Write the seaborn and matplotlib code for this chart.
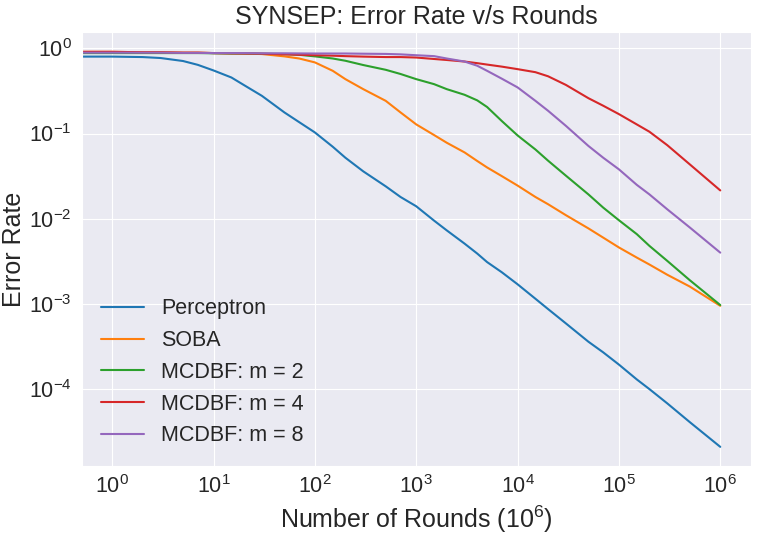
import matplotlib
matplotlib.use("Agg")
import matplotlib.pyplot as plt
import seaborn as sns

sns.set_style("darkgrid")
plt.rcParams["font.family"] = ["Liberation Sans", "DejaVu Sans"]

# rounds at which the error rate was sampled (0 = start)
rounds = [0, 1, 2, 3, 5, 7, 10, 15, 20, 30, 50, 70, 100, 150, 200, 300,
          500, 700, 1e3, 1.5e3, 2e3, 3e3, 4e3, 5e3, 7e3, 1e4, 1.5e4, 2e4,
          3e4, 5e4, 7e4, 1e5, 1.5e5, 2e5, 3e5, 5e5, 1e6]

perceptron = [0.80, 0.80, 0.79, 0.77, 0.71, 0.64, 0.55, 0.455, 0.37, 0.277,
              0.177, 0.136, 0.103, 0.07, 0.052, 0.036, 0.024, 0.018, 0.014,
              0.0095, 0.0073, 0.0051, 0.0039, 0.0031, 0.00235, 0.0017,
              0.00115, 0.00087, 0.00059, 0.00036, 0.00027, 0.000194,
              0.00013, 0.0001, 6.8e-5, 4.1e-5, 2.1e-5]
soba = [0.91, 0.91, 0.90, 0.90, 0.89, 0.89, 0.88, 0.87, 0.87, 0.857, 0.805,
        0.76, 0.684, 0.545, 0.435, 0.332, 0.242, 0.177, 0.128, 0.096, 0.078,
        0.060, 0.0476, 0.040, 0.0316, 0.0245, 0.018, 0.0148, 0.011, 0.0077,
        0.006, 0.0046, 0.0035, 0.0029, 0.0022, 0.0016, 0.00095]
mcdbf_2 = [0.88, 0.88, 0.88, 0.88, 0.88, 0.88, 0.875, 0.87, 0.87, 0.865,
           0.857, 0.84, 0.805, 0.76, 0.715, 0.637, 0.56, 0.50, 0.435, 0.38,
           0.332, 0.285, 0.245, 0.205, 0.14, 0.095, 0.065, 0.048, 0.032,
           0.0193, 0.0135, 0.0096, 0.0066, 0.0048, 0.0032, 0.0019, 0.00097]
mcdbf_4 = [0.91, 0.91, 0.90, 0.90, 0.89, 0.89, 0.88, 0.875, 0.87, 0.865,
           0.85, 0.84, 0.83, 0.82, 0.81, 0.80, 0.79, 0.79, 0.78, 0.75, 0.73,
           0.70, 0.67, 0.645, 0.61, 0.57, 0.525, 0.47, 0.372, 0.26, 0.212,
           0.169, 0.128, 0.105, 0.073, 0.0435, 0.0215]
mcdbf_8 = [0.89, 0.89, 0.89, 0.89, 0.885, 0.885, 0.88, 0.88, 0.88, 0.875,
           0.875, 0.872, 0.87, 0.87, 0.87, 0.865, 0.86, 0.85, 0.83, 0.81,
           0.76, 0.70, 0.625, 0.545, 0.44, 0.348, 0.242, 0.185, 0.123,
           0.0715, 0.052, 0.038, 0.025, 0.0193, 0.0129, 0.0079, 0.0040]

series = {
    "Perceptron": perceptron,
    "SOBA": soba,
    "MCDBF: m = 2": mcdbf_2,
    "MCDBF: m = 4": mcdbf_4,
    "MCDBF: m = 8": mcdbf_8,
}

fig, ax = plt.subplots(figsize=(7.78, 5.36), dpi=100)
palette = sns.color_palette("tab10")
for i, (name, vals) in enumerate(series.items()):
    sns.lineplot(x=rounds, y=vals, label=name, color=palette[i],
                 linewidth=1.5, ax=ax)

ax.set_xscale("log")
ax.set_yscale("log")
ax.set_xlim(0.5, 2e6)
ax.set_ylim(10 ** -4.9, 10 ** 0.19)

ax.set_title("SYNSEP: Error Rate v/s Rounds", fontsize=18)
ax.set_xlabel(r"Number of Rounds ($\mathdefault{10^6}$)", fontsize=18)
ax.set_ylabel("Error Rate", fontsize=18, labelpad=2)
ax.tick_params(labelsize=15.5)
ax.legend(loc="lower left", fontsize=15.5, frameon=False)

fig.subplots_adjust(left=0.105, right=0.965, top=0.94, bottom=0.131)
fig.savefig("out.png", dpi=100)
